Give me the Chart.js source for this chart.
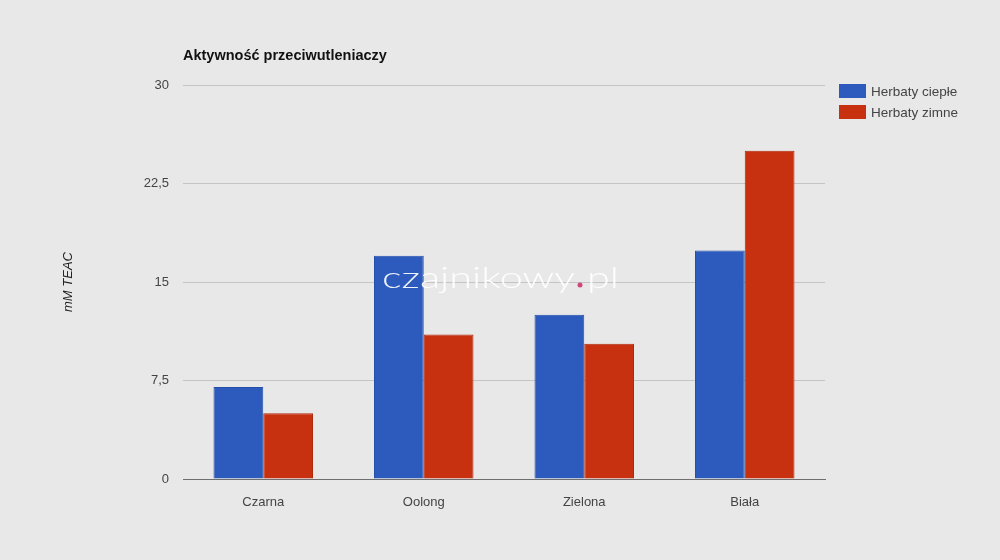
<!DOCTYPE html>
<html>
<head>
<meta charset="utf-8">
<script src="https://cdn.jsdelivr.net/npm/chart.js@4"></script>
<style>
  html, body { margin: 0; padding: 0; background: #e8e8e8; }
  #wrap { position: relative; width: 1000px; height: 560px; }
</style>
</head>
<body>
<div id="wrap"><canvas id="teaChart" width="1000" height="560"></canvas></div>
<script>
// Chart data
const categories = ['Czarna', 'Oolong', 'Zielona', 'Biała'];
const hotValues = [7, 17, 12.5, 17.4];
const coldValues = [5, 11, 10.3, 25];
const seriesNames = ['Herbaty ciepłe', 'Herbaty zimne'];
const yTicks = [0, 7.5, 15, 22.5, 30];

const colors = {
  hot: '#2c5bbd',
  hotBorder: '#2550aa',
  cold: '#c83110',
  coldBorder: '#b02a0c',
  grid: '#c4c4c4',
  axis: '#6f6f6f',
  text: '#444444'
};

const FONT = "'Liberation Sans', Arial, sans-serif";

// Title, axis title, legend and watermark
const decorPlugin = {
  id: 'decor',
  afterDraw(chart) {
    const c = chart.ctx;
    c.save();
    c.fillStyle = '#111';
    c.font = 'bold 14.5px ' + FONT;
    c.textBaseline = 'middle';
    c.textAlign = 'left';
    c.fillText('Aktywność przeciwutleniaczy', 183, 56);

    c.save();
    c.translate(68, 282);
    c.rotate(-Math.PI / 2);
    c.font = 'italic 13px ' + FONT;
    c.fillStyle = '#222';
    c.textAlign = 'center';
    c.fillText('mM TEAC', 0, 0);
    c.restore();

    const legendColors = [colors.hot, colors.cold];
    seriesNames.forEach((name, i) => {
      const y = 84 + i * 21;
      c.fillStyle = legendColors[i];
      c.fillRect(839, y, 27, 14);
      c.fillStyle = colors.text;
      c.font = '13.5px ' + FONT;
      c.textAlign = 'left';
      c.fillText(name, 871, y + 8);
    });

    // watermark: "czajnikowy" + pink dot + "pl", stretched wide
    c.font = '300 29px Lato, sans-serif';
    c.fillStyle = 'rgba(255,255,255,0.92)';
    c.textAlign = 'left';
    c.textBaseline = 'alphabetic';
    const word = 'czajnikowy';
    const sx = 193 / c.measureText(word).width;
    c.save();
    c.translate(382, 288);
    c.scale(sx, 1);
    c.fillText(word, 0, 0);
    c.restore();
    c.save();
    c.translate(587, 288);
    c.scale(sx, 1);
    c.fillText('pl', 0, 0);
    c.restore();
    c.fillStyle = '#d0457a';
    c.beginPath();
    c.arc(580, 285, 2.5, 0, Math.PI * 2);
    c.fill();
    c.restore();
  }
};

new Chart(document.getElementById('teaChart').getContext('2d'), {
  type: 'bar',
  data: {
    labels: categories,
    datasets: [
      {
        label: seriesNames[0],
        data: hotValues,
        backgroundColor: colors.hot,
        borderColor: colors.hotBorder,
        borderWidth: 1,
        categoryPercentage: 0.62,
        barPercentage: 1
      },
      {
        label: seriesNames[1],
        data: coldValues,
        backgroundColor: colors.cold,
        borderColor: colors.coldBorder,
        borderWidth: 1,
        categoryPercentage: 0.62,
        barPercentage: 1
      }
    ]
  },
  options: {
    responsive: false,
    animation: false,
    devicePixelRatio: 1,
    layout: { padding: { top: 85, right: 175, left: 0, bottom: 0 } },
    plugins: {
      legend: { display: false },
      tooltip: { enabled: false }
    },
    scales: {
      x: {
        grid: { display: false },
        border: { display: true, color: colors.axis, width: 1 },
        ticks: { color: colors.text, font: { family: FONT, size: 13 }, padding: 8 },
        afterFit(scale) { scale.height = 81; }
      },
      y: {
        min: 0,
        max: 30,
        afterBuildTicks(scale) { scale.ticks = yTicks.map(v => ({ value: v })); },
        grid: {
          color: ctx => ctx.tick && ctx.tick.value === 0 ? colors.axis : colors.grid,
          drawTicks: false
        },
        border: { display: false },
        ticks: {
          color: colors.text,
          font: { family: FONT, size: 13 },
          padding: 14,
          callback: v => String(v).replace('.', ',')
        },
        afterFit(scale) { scale.width = 183; }
      }
    }
  },
  plugins: [decorPlugin]
});
</script>
</body>
</html>
